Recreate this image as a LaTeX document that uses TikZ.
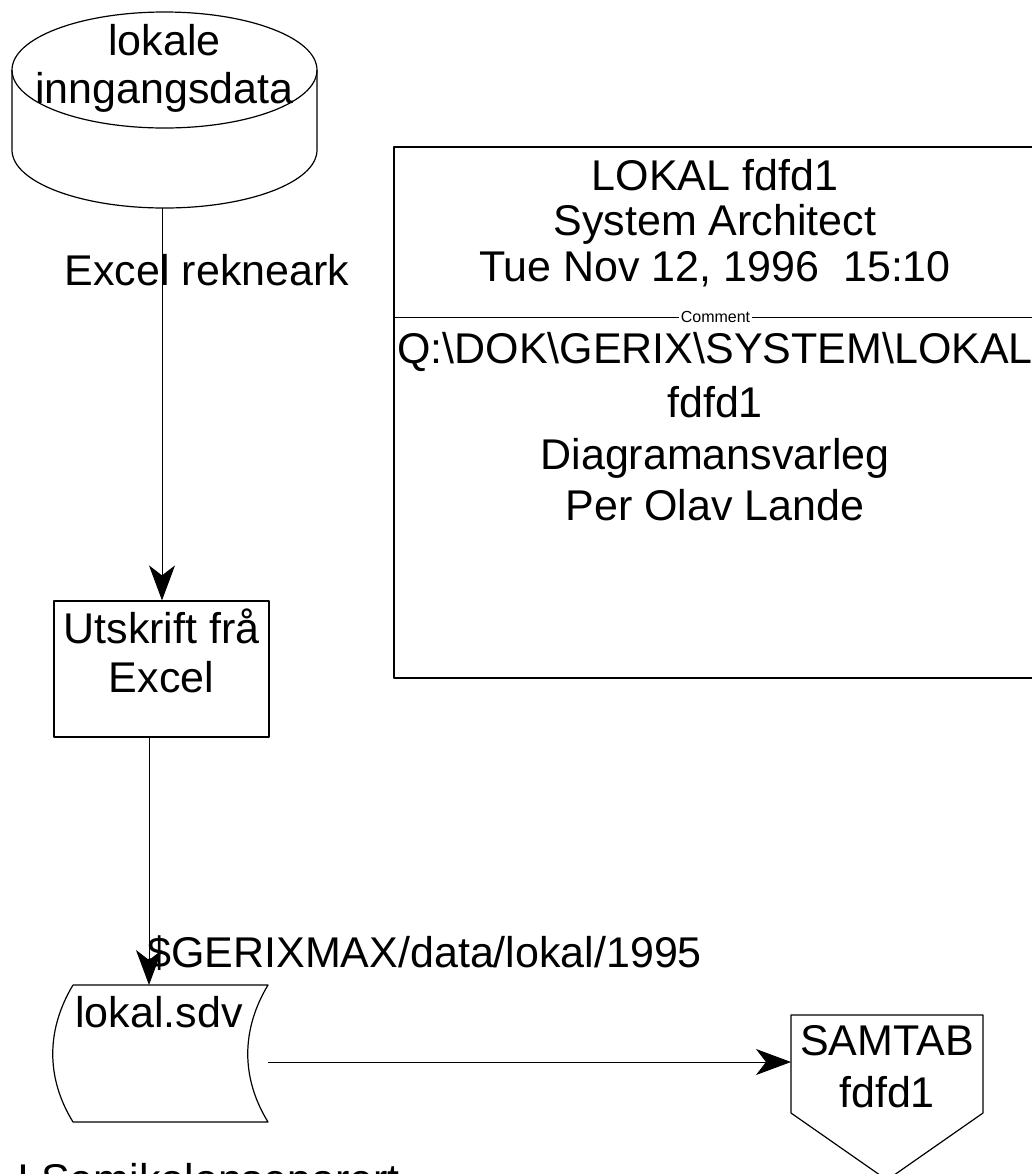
\documentclass[tikz,border=0pt]{standalone}
\usepackage{fontspec}
\setmainfont{Liberation Sans}
\usetikzlibrary{arrows.meta}

\tikzset{
  txt/.style={font=\fontsize{21.5}{24}\selectfont,inner sep=0pt,anchor=base},
  smalltxt/.style={font=\fontsize{8}{9}\selectfont,inner sep=1pt,fill=white},
  shapeline/.style={line width=0.6pt},
  flow/.style={line width=0.45pt,-{Stealth[length=17.5pt,width=13pt,inset=5pt]}},
}

\begin{document}
\begin{tikzpicture}[x=0.5pt,y=0.5pt,line join=round]
\useasboundingbox (0,0) rectangle (1032,-1174);
% lokale inngangsdata
\draw[shapeline] (12,-70)--(12,-150) arc[start angle=180,end angle=360,x radius=152.5,y radius=58]--(317,-70);
\draw[shapeline] (164.5,-70) ellipse[x radius=152.5,y radius=58];
\node[txt] (inn1) at (164.5,-55) {lokale};
\node[txt] (inn2) at (164.5,-103) {inngangsdata};
\coordinate (inn) at (162,-208);
\node[txt] (rekneark) at (207,-285) {Excel rekneark};
% Utskrift fra Excel
\node[draw,shapeline,minimum width=107.5pt,minimum height=68pt,inner sep=0pt] (utskrift) at (161.5,-669) {};
\node[txt] (utskrift1) at (161.5,-643) {Utskrift frå};
\node[txt] (utskrift2) at (161.5,-692) {Excel};
\draw[flow] (inn) -- (inn |- utskrift.north);
% lokal.sdv
\draw[shapeline] (73,-985)--(268,-985) .. controls (241,-1030) and (241,-1078) .. (268,-1122)--(73,-1122) .. controls (46,-1078) and (46,-1030) .. (73,-985);
\node[txt] (sdv) at (159,-1027) {lokal.sdv};
\coordinate (sdvinn) at (149,-985);
\coordinate (sdvut) at (268,-1062);
\draw[flow] (utskrift.south -| sdvinn) -- (sdvinn);
\node[txt,anchor=base west] (gerix) at (147,-967) {\$GERIXMAX/data/lokal/1995};
\node[txt,anchor=base west] (semikolon) at (17,-1194) {I Semikolonseparert};
% SAMTAB
\draw[shapeline] (791,-1015)--(983,-1015)--(983,-1113)--(887,-1180)--(791,-1113)--cycle;
\node[txt] (samtab1) at (887,-1055) {SAMTAB};
\node[txt] (samtab2) at (887,-1107) {fdfd1};
\coordinate (samtab) at (791,-1062);
\draw[flow] (sdvut) -- (samtab);
% tittelboks
\draw[shapeline] (1037,-147)--(394,-147)--(394,-678)--(1037,-678);
\node[txt] (tittel1) at (715,-190) {LOKAL fdfd1};
\node[txt] (tittel2) at (715,-235) {System Architect};
\node[txt] (tittel3) at (715,-281) {Tue Nov 12, 1996\ \ 15:10};
\draw[line width=0.45pt] (394,-317) -- node[smalltxt] (comment) {Comment} (1037,-317);
\node[txt] (kommentar1) at (715,-363) {Q:\textbackslash{}DOK\textbackslash{}GERIX\textbackslash{}SYSTEM\textbackslash{}LOKAL};
\node[txt] (kommentar2) at (715,-417) {fdfd1};
\node[txt] (kommentar3) at (715,-469) {Diagramansvarleg};
\node[txt] (kommentar4) at (715,-520) {Per Olav Lande};
\end{tikzpicture}
\end{document}
